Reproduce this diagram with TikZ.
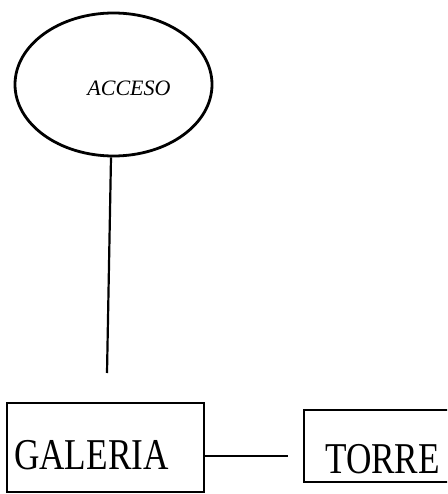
\documentclass[tikz,border=0pt]{standalone}
\usepackage{fontspec}
\setmainfont{Liberation Serif}
\usetikzlibrary{shapes.geometric}
\begin{document}
\begin{tikzpicture}[x=1pt,y=-1pt,
  box/.style={draw,line width=2.2pt,rectangle,inner sep=0pt},
  oval/.style={draw,line width=2.8pt,ellipse,inner sep=0pt,minimum width=197pt,minimum height=143pt},
  conn/.style={line width=2.2pt},
  bigtext/.style={inner sep=0pt,anchor=base west,font=\fontsize{44}{44}\selectfont,xscale=0.8}]
\useasboundingbox (0,0) rectangle (447,494);
\clip (0,0) rectangle (447,494);
\fill[white] (0,0) rectangle (447,494);
\node[oval] (acceso) at (113.5,84.5) {};
\node[inner sep=0pt,font=\fontsize{22}{22}\selectfont\itshape] (accesotext) at (129,88) {ACCESO};
\node[box,minimum width=197pt,minimum height=89pt] (galeria) at (105.5,447.5) {};
\node[bigtext] (galeriatext) at (14,469) {GALERIA};
\node[box,minimum width=180pt,minimum height=72pt] (torre) at (394,446) {};
\node[bigtext] (torretext) at (325,473) {TORRE};
\coordinate (c1) at (107,373);
\coordinate (c2) at (288,456);
\draw[conn] ([xshift=-2.5pt]acceso.south) -- (c1);
\draw[conn] ([yshift=-8.5pt]galeria.east) -- (c2);
\end{tikzpicture}
\end{document}
